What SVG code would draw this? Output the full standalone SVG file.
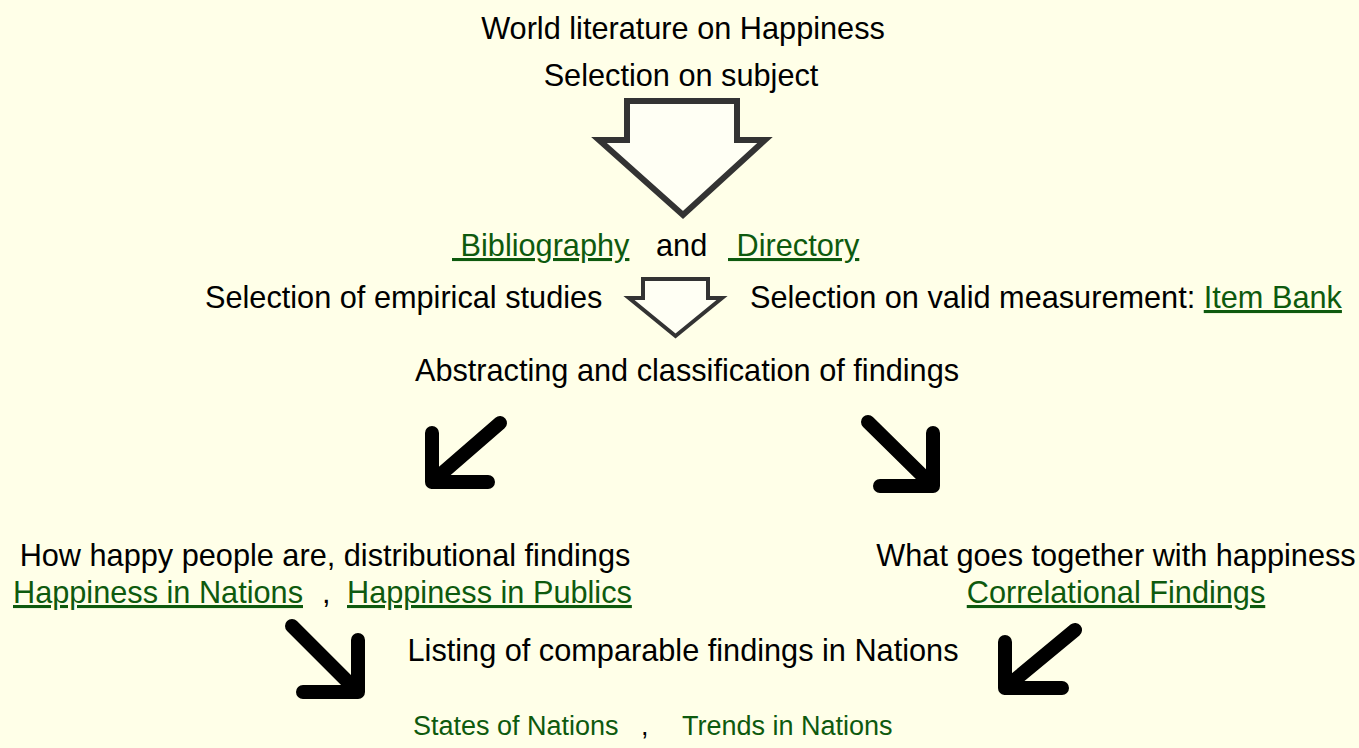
<svg xmlns="http://www.w3.org/2000/svg" width="1359" height="748" viewBox="0 0 1359 748">
  <style>
    text { font-family: "Liberation Sans", Arial, sans-serif; font-size: 30.7px; fill: #000; }
    .link { fill: #0e5a0e; text-decoration: underline; }
    .small { font-size: 27px; }
    .plain { text-decoration: none; }
    .hollow { fill: #fffff4; stroke: #333; stroke-width: 6; stroke-linejoin: miter; }
    .thick { fill: none; stroke: #000; stroke-width: 14; stroke-linecap: round; stroke-linejoin: round; }
  </style>
  <rect width="1359" height="748" fill="#ffffe8"/>

  <g id="source">
    <text x="683" y="39" text-anchor="middle">World literature on Happiness</text>
    <text x="681" y="86" text-anchor="middle">Selection on subject</text>
  </g>

  <g id="catalogues">
    <text x="452" y="256" class="link" xml:space="preserve"> Bibliography</text>
    <text x="656" y="256">and</text>
    <text x="728" y="256" class="link" xml:space="preserve"> Directory</text>
  </g>

  <g id="selection-empirical">
    <text x="205" y="308">Selection of empirical studies</text>
  </g>

  <g id="selection-measurement">
    <text x="750" y="308">Selection on valid measurement: <tspan class="link">Item Bank</tspan></text>
  </g>

  <g id="abstracting">
    <text x="687" y="381" text-anchor="middle">Abstracting and classification of findings</text>
  </g>

  <g id="distributional">
    <text x="325" y="566" text-anchor="middle">How happy people are, distributional findings</text>
    <text x="13" y="603" class="link">Happiness in Nations</text>
    <text x="322" y="603">,</text>
    <text x="347" y="603" class="link">Happiness in Publics</text>
  </g>

  <g id="correlational">
    <text x="1116" y="566" text-anchor="middle">What goes together with happiness</text>
    <text x="1116" y="603" text-anchor="middle" class="link">Correlational Findings</text>
  </g>

  <g id="listing">
    <text x="683" y="661" text-anchor="middle">Listing of comparable findings in Nations</text>
  </g>

  <g id="nations">
    <text x="413" y="735" class="link small plain">States of Nations</text>
    <text x="641" y="735" class="small">,</text>
    <text x="682" y="735" class="link small plain">Trends in Nations</text>
  </g>

  <g id="connectors">
    <!-- large hollow block arrow -->
    <path class="hollow" d="M627,101 H737 V140 H765 L683,215 L599,140 H627 Z"/>
    <!-- small hollow block arrow -->
    <path class="hollow" style="stroke-width:4" d="M643,279 H708 V298 H722 L675.5,336 L629,298 H643 Z"/>
    <!-- thick bent arrows -->
    <path class="thick" d="M500,423 L432,482 M432,433 V482 H488"/>
    <path class="thick" d="M868,422 L933,486 M933,433 V486 H880"/>
    <path class="thick" d="M292,626 L358,692 M358,640 V692 H303"/>
    <path class="thick" d="M1075,630 L1005,688 M1005,642 V688 H1062"/>
  </g>
</svg>
